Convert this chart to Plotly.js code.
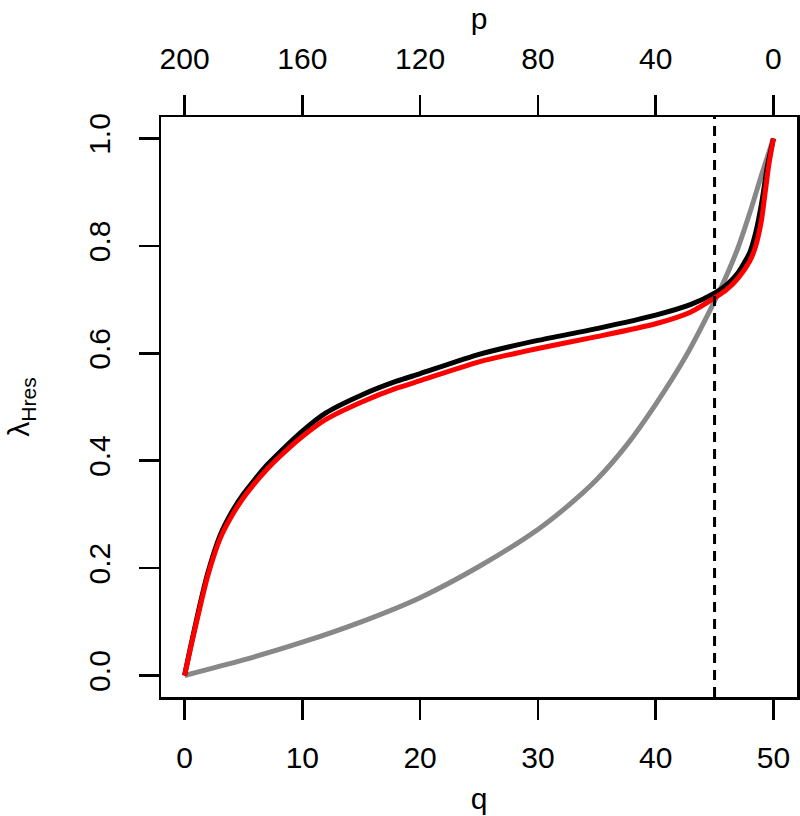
<!DOCTYPE html>
<html>
<head>
<meta charset="utf-8">
<script src="https://cdn.plot.ly/plotly-3.0.1.min.js"></script>
<style>html,body{margin:0;padding:0;background:#fff;}#chart{width:800px;height:816px;}</style>
</head>
<body>
<div id="chart"></div>
<script>
// q values (bottom axis) for each series
const qBlack = [0,0.5,1,1.5,2,3,4,5,6,7,8,10,12,15,18,20,25,30,35,40,43,45,46,47,48,48.5,49,49.5,50];
const lambdaBlack = [0,0.052,0.102,0.150,0.193,0.260,0.304,0.338,0.366,0.392,0.414,0.455,0.489,0.522,0.548,0.562,0.598,0.624,0.646,0.671,0.691,0.712,0.727,0.750,0.788,0.825,0.880,0.950,1.0];

const qRed = [0,0.5,1,1.5,2,3,4,5,6,7,8,10,12,15,18,20,25,30,35,40,43,45,46,47,48,48.5,49,49.3,49.6,50];
const lambdaRed = [0,0.050,0.098,0.145,0.188,0.254,0.297,0.331,0.359,0.384,0.406,0.445,0.477,0.509,0.535,0.549,0.584,0.609,0.631,0.655,0.677,0.703,0.718,0.740,0.772,0.800,0.850,0.900,0.950,1.0];

const qGray = [0,5,10,15,20,25,30,32.5,35,37.5,40,42.5,45,46,47,48,49,50];
const lambdaGray = [0,0.029,0.062,0.100,0.145,0.203,0.272,0.315,0.365,0.428,0.505,0.592,0.697,0.744,0.797,0.862,0.933,1.0];

const qThreshold = [45];

const qTicks = [0,10,20,30,40,50];
const pTicks = [0,40,80,120,160,200];
const lambdaTicks = [0,0.2,0.4,0.6,0.8,1.0];
const lambdaTickLabels = ['0.0','0.2','0.4','0.6','0.8','1.0'];

// p = 200 - 4 q
const qRange = [-2, 52];
const pRange = qRange.map(q => 200 - 4*q);

const FONT = 'Liberation Sans, Arial, Helvetica, sans-serif';
const FS = 30;

const traces = [
  {x: qGray, y: lambdaGray, type:'scatter', mode:'lines', line:{color:'#888888', width:5, shape:'spline', smoothing:0.8}, hoverinfo:'skip', showlegend:false},
  {x: qBlack, y: lambdaBlack, type:'scatter', mode:'lines', line:{color:'#000000', width:5, shape:'spline', smoothing:0.6}, hoverinfo:'skip', showlegend:false},
  {x: qRed, y: lambdaRed, type:'scatter', mode:'lines', line:{color:'#ff0000', width:5, shape:'spline', smoothing:0.6}, hoverinfo:'skip', showlegend:false},
  {x: pTicks, y: pTicks.map(()=>0.5), xaxis:'x2', type:'scatter', mode:'markers', marker:{opacity:0}, hoverinfo:'skip', showlegend:false}
];

const axisCommon = {
  showgrid:false, zeroline:false, showline:true, linecolor:'#000', linewidth:2.5,
  ticks:'outside', ticklen:20, tickwidth:2.5, tickcolor:'#000',
  tickfont:{family:FONT, size:FS, color:'#000'}
};

const layout = {
  width:800, height:816,
  margin:{l:161, r:3, t:117, b:119},
  paper_bgcolor:'#fff', plot_bgcolor:'#fff',
  showlegend:false,
  xaxis: Object.assign({}, axisCommon, {
    range:qRange, tickmode:'array', tickvals:qTicks, mirror:true,
    ticklabelstandoff:12,
    title:{text:'q', font:{family:FONT, size:FS, color:'#000'}, standoff:16}
  }),
  xaxis2: Object.assign({}, axisCommon, {
    range:pRange, overlaying:'x', side:'top', anchor:'y', tickmode:'array', tickvals:pTicks,
    ticklabelstandoff:14,
    title:{text:'p', font:{family:FONT, size:FS, color:'#000'}, standoff:3}
  }),
  yaxis: Object.assign({}, axisCommon, {
    range:[-0.04,1.04], tickmode:'array', tickvals:lambdaTicks, ticktext:lambdaTickLabels,
    tickangle:-90, mirror:true, ticklabelstandoff:17,
    title:{text:'λ<sub>Hres</sub>', font:{family:FONT, size:FS, color:'#000'}, standoff:44}
  }),
  shapes:[
    {type:'line', xref:'x', yref:'paper', x0:qThreshold[0], x1:qThreshold[0], y0:0, y1:1,
     line:{color:'#000', width:3, dash:'10px,7px'}}
  ]
};

Plotly.newPlot('chart', traces, layout, {displayModeBar:false, staticPlot:true});
</script>
</body>
</html>
